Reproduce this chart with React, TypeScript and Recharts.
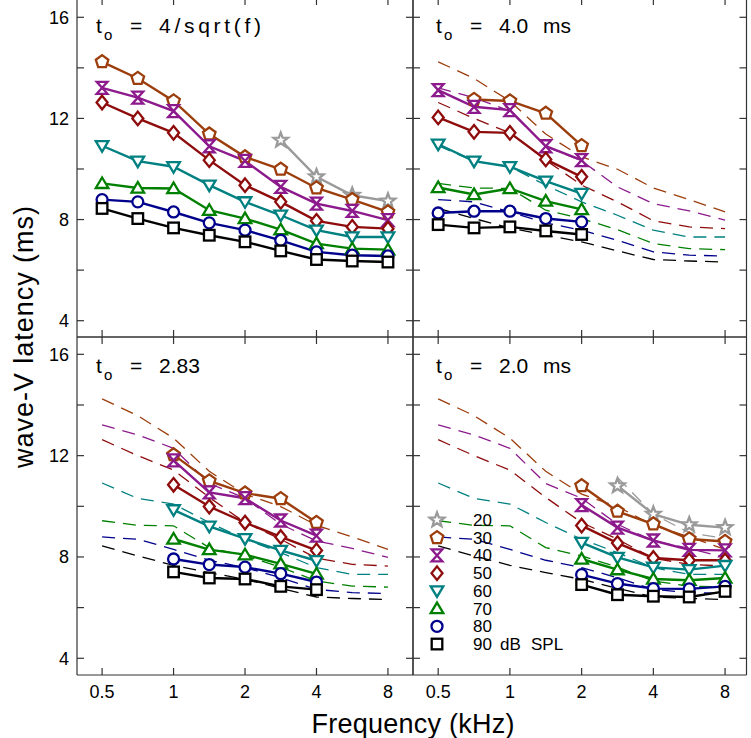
import React from 'react';
import { LineChart, Line, XAxis, YAxis } from 'recharts';

// ---------- data ----------
const FREQ_A = [0.5, 0.707, 1, 1.414, 2, 2.828, 4, 5.657, 8];
const FREQ_B = [0.5, 0.707, 1, 1.414, 2];
const FREQ_C = [1, 1.414, 2, 2.828, 4];
const FREQ_D = [2, 2.828, 4, 5.657, 8];

const LEVELS = [20, 30, 40, 50, 60, 70, 80, 90];
const X_TICKS = [0.5, 1, 2, 4, 8];
const Y_TICKS = [4, 6, 8, 10, 12, 14, 16];
const Y_LABELED = [4, 8, 12, 16];

// panel A : t0 = 4/sqrt(f)
const A20 = [null, null, null, null, null, 11.14, 9.69, 8.96, 8.73];
const A30 = [14.24, 13.58, 12.69, 11.38, 10.48, 9.99, 9.25, 8.79, 8.3];
const A40 = [13.21, 12.82, 12.29, 10.9, 10.32, 9.29, 8.63, 8.34, 7.98];
const A50 = [12.63, 12.0, 11.43, 10.35, 9.36, 8.7, 7.95, 7.71, 7.64];
const A60 = [10.92, 10.31, 10.09, 9.36, 8.7, 8.17, 7.58, 7.31, 7.31];
const A70 = [9.43, 9.25, 9.23, 8.37, 8.04, 7.6, 7.05, 6.85, 6.81];
const A80 = [8.79, 8.7, 8.3, 7.87, 7.58, 7.18, 6.72, 6.59, 6.56];
const A90 = [8.44, 8.04, 7.67, 7.38, 7.12, 6.76, 6.42, 6.36, 6.32];

// panel B : t0 = 4.0 ms
const B20 = [null, null, null, null, null];
const B30 = [null, 12.75, 12.69, 12.2, 10.92];
const B40 = [13.12, 12.46, 12.33, 10.9, 10.35];
const B50 = [12.04, 11.47, 11.43, 10.38, 9.69];
const B60 = [10.98, 10.31, 10.09, 9.52, 9.03];
const B70 = [9.27, 8.99, 9.23, 8.73, 8.4];
const B80 = [8.26, 8.33, 8.33, 8.04, 7.91];
const B90 = [7.8, 7.67, 7.71, 7.55, 7.41];

// panel C : t0 = 2.83
const C20 = [null, null, null, null, null];
const C30 = [12.03, 11.0, 10.52, 10.3, 9.36];
const C40 = [11.81, 10.55, 10.32, 9.44, 8.84];
const C50 = [10.85, 9.99, 9.36, 8.79, 8.26];
const C60 = [9.86, 9.21, 8.72, 8.26, 7.85];
const C70 = [8.71, 8.29, 8.09, 7.73, 7.33];
const C80 = [7.92, 7.7, 7.6, 7.34, 7.01];
const C90 = [7.41, 7.17, 7.13, 6.84, 6.71];

// panel D : t0 = 2.0 ms
const D20 = [null, 10.81, 9.69, 9.27, 9.16];
const D30 = [10.81, 9.8, 9.3, 8.71, 8.61];
const D40 = [10.05, 9.16, 8.65, 8.28, 8.26];
const D50 = [9.24, 8.55, 7.96, 7.87, 7.87];
const D60 = [8.57, 7.98, 7.59, 7.5, 7.66];
const D70 = [7.92, 7.5, 7.13, 7.08, 7.17];
const D80 = [7.3, 6.95, 6.75, 6.74, 6.84];
const D90 = [6.91, 6.51, 6.45, 6.42, 6.64];

const TITLES = ['4/sqrt(f)', '4.0', '2.83', '2.0'];

// ---------- styles ----------
const COLORS = ['#9a9a9a', '#9c3d0c', '#8c1a8c', '#8e0c0c', '#008080', '#008000', '#00008c', '#000000'];
const SHAPES = ['star', 'pentagon', 'hourglass', 'diamond', 'tridown', 'triup', 'circle', 'square'];
const FONT = '"Liberation Sans", Arial, sans-serif';
const FRAME = '#333333';
const TICK_LEN = 7;

const X_DOMAIN_LEFT: [number, number] = [0.392, 10.2];
const X_DOMAIN_RIGHT: [number, number] = [0.392, 9.84];
const Y_DOMAIN_TOP: [number, number] = [3.355, 16.763];
const Y_DOMAIN_BOTTOM: [number, number] = [3.34, 16.684];

const pts = (freq: number[], vals: (number | null)[]) =>
  freq.map((f, i) => ({ f, v: vals[i] })).filter((d) => d.v !== null && d.v !== undefined);

function polyPath(cx: number, cy: number, n: number, rOuter: number, rInner?: number) {
  const total = rInner ? n * 2 : n;
  let d = '';
  for (let i = 0; i < total; i++) {
    const r = rInner ? (i % 2 === 0 ? rOuter : rInner) : rOuter;
    const a = -Math.PI / 2 + (i * 2 * Math.PI) / total;
    d += (i === 0 ? 'M' : 'L') + (cx + r * Math.cos(a)).toFixed(2) + ',' + (cy + r * Math.sin(a)).toFixed(2);
  }
  return d + 'Z';
}

function Marker({ cx, cy, shape, color }: { cx: number; cy: number; shape: string; color: string }) {
  const common = { fill: '#fff', stroke: color, strokeWidth: 2.3, strokeLinejoin: 'miter' as const };
  if (cx == null || cy == null) return <g />;
  switch (shape) {
    case 'star':
      return <path d={polyPath(cx, cy, 5, 7.6, 3.2)} {...common} />;
    case 'pentagon':
      return <path d={polyPath(cx, cy, 5, 6.6)} {...common} />;
    case 'hourglass':
      return <path d={`M${cx - 5.4},${cy - 6}H${cx + 5.4}L${cx - 5.4},${cy + 6}H${cx + 5.4}Z`} {...common} />;
    case 'diamond':
      return <path d={`M${cx},${cy - 6.8}L${cx + 5.5},${cy}L${cx},${cy + 6.8}L${cx - 5.5},${cy}Z`} {...common} />;
    case 'tridown':
      return <path d={`M${cx - 6.3},${cy - 4.6}H${cx + 6.3}L${cx},${cy + 6}Z`} {...common} />;
    case 'triup':
      return <path d={`M${cx - 6.3},${cy + 4.6}H${cx + 6.3}L${cx},${cy - 6}Z`} {...common} />;
    case 'circle':
      return <circle cx={cx} cy={cy} r={5.5} {...common} />;
    default:
      return <rect x={cx - 5.3} y={cy - 5.3} width={10.6} height={10.6} {...common} />;
  }
}

type Series = { level: number; idx: number; data: { f: number; v: number | null }[] };

const makeSeries = (freq: number[], arrays: (number | null)[][]): Series[] =>
  arrays
    .map((vals, idx) => ({ level: LEVELS[idx], idx, data: pts(freq, vals) }))
    .filter((s) => s.data.length > 0);

const PANEL_A_SERIES = makeSeries(FREQ_A, [A20, A30, A40, A50, A60, A70, A80, A90]);
const PANEL_B_SERIES = makeSeries(FREQ_B, [B20, B30, B40, B50, B60, B70, B80, B90]);
const PANEL_C_SERIES = makeSeries(FREQ_C, [C20, C30, C40, C50, C60, C70, C80, C90]);
const PANEL_D_SERIES = makeSeries(FREQ_D, [D20, D30, D40, D50, D60, D70, D80, D90]);
// reference (dashed) curves are the panel-A curves, for levels present in that panel
const refsFor = (series: Series[]) => series.map((s) => PANEL_A_SERIES.find((a) => a.idx === s.idx)!).filter(Boolean);

// ---------- inward ticks (drawn by the axes' tick renderers) ----------
const tickStroke = { stroke: FRAME, strokeWidth: 1.2 };
const textStyle = { fontFamily: FONT, fontSize: 18, fill: '#000' };

const leftTick = (showLabel: boolean) => (props: any) => {
  const { x, y, payload } = props;
  const v = payload?.value;
  return (
    <g>
      <line x1={x} x2={x + TICK_LEN} y1={y} y2={y} {...tickStroke} />
      {showLabel && Y_LABELED.includes(v) ? (
        <text x={x - 8} y={y} dy="0.35em" textAnchor="end" {...textStyle}>
          {String(v)}
        </text>
      ) : null}
    </g>
  );
};
const rightTick = (props: any) => {
  const { x, y } = props;
  return <line x1={x - TICK_LEN} x2={x} y1={y} y2={y} {...tickStroke} />;
};
const bottomTick = (showLabel: boolean) => (props: any) => {
  const { x, y, payload } = props;
  return (
    <g>
      <line x1={x} x2={x} y1={y - TICK_LEN} y2={y} {...tickStroke} />
      {showLabel ? (
        <text x={x} y={y + 23} textAnchor="middle" {...textStyle}>
          {String(payload?.value)}
        </text>
      ) : null}
    </g>
  );
};
const topTick = (props: any) => {
  const { x, y } = props;
  return <line x1={x} x2={x} y1={y} y2={y + TICK_LEN} {...tickStroke} />;
};

type PanelProps = {
  id: string;
  left: number;
  top: number;
  width: number;
  height: number;
  margin: { top: number; right: number; bottom: number; left: number };
  yWidth: number;
  xHeight: number;
  xDomain: [number, number];
  yDomain: [number, number];
  showX: boolean;
  showY: boolean;
  series: Series[];
  refs: Series[];
};

function Panel(p: PanelProps) {
  return (
    <div style={{ position: 'absolute', left: p.left, top: p.top }}>
      <LineChart width={p.width} height={p.height} margin={p.margin}>
        <XAxis
          xAxisId="b"
          dataKey="f"
          type="number"
          scale="log"
          domain={p.xDomain}
          allowDataOverflow
          ticks={X_TICKS}
          interval={0}
          tickSize={0}
          tickMargin={0}
          height={p.xHeight}
          stroke={FRAME}
          strokeWidth={1.2}
          axisLine
          tickLine={false}
          tick={bottomTick(p.showX)}
        />
        <XAxis
          xAxisId="t"
          orientation="top"
          dataKey="f"
          type="number"
          scale="log"
          domain={p.xDomain}
          allowDataOverflow
          ticks={X_TICKS}
          interval={0}
          tickSize={0}
          tickMargin={0}
          height={1}
          stroke={FRAME}
          strokeWidth={1.2}
          axisLine
          tickLine={false}
          tick={topTick}
        />
        <YAxis
          yAxisId="l"
          type="number"
          domain={p.yDomain}
          allowDataOverflow
          ticks={Y_TICKS}
          interval={0}
          tickSize={0}
          tickMargin={0}
          width={p.yWidth}
          stroke={FRAME}
          strokeWidth={1.2}
          axisLine
          tickLine={false}
          tick={leftTick(p.showY)}
        />
        <YAxis
          yAxisId="r"
          orientation="right"
          type="number"
          domain={p.yDomain}
          allowDataOverflow
          ticks={Y_TICKS}
          interval={0}
          tickSize={0}
          tickMargin={0}
          width={1}
          stroke={FRAME}
          strokeWidth={1.2}
          axisLine
          tickLine={false}
          tick={rightTick}
        />
        {p.refs.map((s) => (
          <Line
            key={`${p.id}-ref-${s.level}`}
            xAxisId="b"
            yAxisId="l"
            data={s.data}
            dataKey="v"
            type="linear"
            stroke={COLORS[s.idx]}
            strokeWidth={1.3}
            strokeDasharray="13 8"
            dot={false}
            activeDot={false}
            isAnimationActive={false}
          />
        ))}
        {p.series.map((s) => (
          <Line
            key={`${p.id}-s-${s.level}`}
            xAxisId="b"
            yAxisId="l"
            data={s.data}
            dataKey="v"
            type="linear"
            stroke={COLORS[s.idx]}
            strokeWidth={2.4}
            dot={(d: any) => (
              <Marker key={`${p.id}-${s.level}-${d.index}`} cx={d.cx} cy={d.cy} shape={SHAPES[s.idx]} color={COLORS[s.idx]} />
            )}
            activeDot={false}
            isAnimationActive={false}
          />
        ))}
      </LineChart>
    </div>
  );
}

function Title({ x, y, value, unit, valueLength }: { x: number; y: number; value: string; unit?: boolean; valueLength?: number }) {
  return (
    <g fontFamily={FONT} fill="#000">
      <text x={x} y={y} fontSize={21}>t</text>
      <text x={x + 8} y={y + 7} fontSize={15}>o</text>
      <text x={x + 34} y={y} fontSize={21}>=</text>
      <text x={x + 63} y={y} fontSize={21} {...(valueLength ? { textLength: valueLength, lengthAdjust: 'spacing' } : {})}>
        {value}
      </text>
      {unit ? (
        <text x={x + 107} y={y} fontSize={21}>ms</text>
      ) : null}
    </g>
  );
}

function Overlay() {
  const legendX = 437;
  const legendY0 = 520;
  const step = 17.72;
  return (
    <svg width={751} height={738} style={{ position: 'absolute', left: 0, top: 0, pointerEvents: 'none' }}>
      <Title x={96} y={33} value={TITLES[0]} valueLength={102} />
      <Title x={436} y={33} value={TITLES[1]} unit />
      <Title x={96} y={373} value={TITLES[2]} />
      <Title x={436} y={373} value={TITLES[3]} unit />
      <text
        transform="translate(33,337) rotate(-90)"
        textAnchor="middle"
        fontFamily={FONT}
        fontSize={27}
        textLength={262}
        lengthAdjust="spacing"
        fill="#000"
      >
        wave-V latency (ms)
      </text>
      <text x={413} y={733} textAnchor="middle" fontFamily={FONT} fontSize={27} textLength={203} lengthAdjust="spacing" fill="#000">
        Frequency (kHz)
      </text>
      {LEVELS.map((lv, i) => (
        <g key={`lg-${lv}`}>
          <Marker cx={legendX} cy={legendY0 + i * step} shape={SHAPES[i]} color={COLORS[i]} />
          <text x={473} y={legendY0 + i * step + 6} fontFamily={FONT} fontSize={17} fill="#000">
            {i === LEVELS.length - 1 ? (
              <>
                <tspan>{String(lv)}</tspan>
                <tspan x={500}>dB</tspan>
                <tspan x={531}>SPL</tspan>
              </>
            ) : (
              String(lv)
            )}
          </text>
        </g>
      ))}
    </svg>
  );
}

export default function App() {
  return (
    <div style={{ position: 'absolute', left: 0, top: 0, width: 751, height: 738, background: '#fff', overflow: 'hidden' }}>
      <Panel
        id="A"
        left={0}
        top={-3}
        width={414}
        height={341}
        margin={{ top: 0, right: 0, bottom: 0, left: 0 }}
        yWidth={77}
        xHeight={1}
        xDomain={X_DOMAIN_LEFT}
        yDomain={Y_DOMAIN_TOP}
        showX={false}
        showY
        series={PANEL_A_SERIES}
        refs={[]}
      />
      <Panel
        id="B"
        left={412}
        top={-3}
        width={338}
        height={341}
        margin={{ top: 0, right: 2.5, bottom: 0, left: 0 }}
        yWidth={1}
        xHeight={1}
        xDomain={X_DOMAIN_RIGHT}
        yDomain={Y_DOMAIN_TOP}
        showX={false}
        showY={false}
        series={PANEL_B_SERIES}
        refs={refsFor(PANEL_B_SERIES)}
      />
      <Panel
        id="C"
        left={0}
        top={336}
        width={414}
        height={402}
        margin={{ top: 0, right: 0, bottom: 0, left: 0 }}
        yWidth={77}
        xHeight={63}
        xDomain={X_DOMAIN_LEFT}
        yDomain={Y_DOMAIN_BOTTOM}
        showX
        showY
        series={PANEL_C_SERIES}
        refs={refsFor(PANEL_C_SERIES)}
      />
      <Panel
        id="D"
        left={412}
        top={336}
        width={338}
        height={402}
        margin={{ top: 0, right: 2.5, bottom: 0, left: 0 }}
        yWidth={1}
        xHeight={63}
        xDomain={X_DOMAIN_RIGHT}
        yDomain={Y_DOMAIN_BOTTOM}
        showX
        showY={false}
        series={PANEL_D_SERIES}
        refs={refsFor(PANEL_D_SERIES)}
      />
      <Overlay />
    </div>
  );
}
